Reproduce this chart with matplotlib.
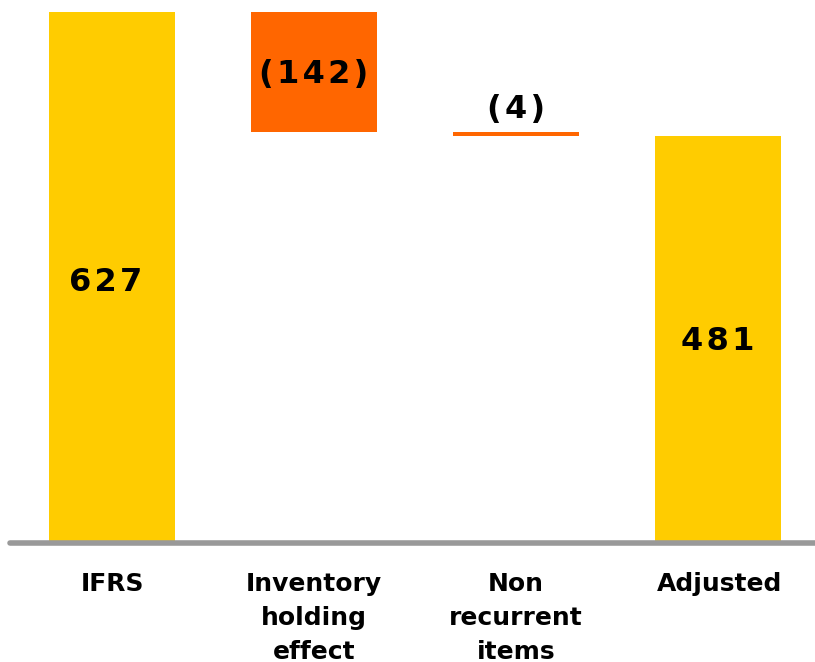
import numpy as np
import matplotlib
matplotlib.use('Agg')
from matplotlib import pyplot as plt

categories = ['IFRS', 'Inventory\nholding\neffect', 'Non\nrecurrent\nitems', 'Adjusted']
values = [627, -142, -4, 481]
labels = ['627', '(142)', '(4)', '481']
is_total = [True, False, False, True]

yellow = '#FFCC00'
orange = '#FF6600'


def spaced(s):
    # the reference value labels are letter-spaced
    return '\u200a'.join(s)


fig = plt.figure(figsize=(8.15, 6.62), dpi=100)
ax = fig.add_axes([10 / 815, (662 - 543) / 662, 805 / 815, (543 - 12) / 662])

x = np.arange(len(categories))
bottoms, heights = [], []
running = 0
for v, total in zip(values, is_total):
    if total:
        bottoms.append(0)
        heights.append(v)
        running = v
    else:
        bottoms.append(running + v)
        heights.append(-v)
        running += v

colors = [yellow if t else orange for t in is_total]
ax.bar(x, heights, bottom=bottoms, width=0.624, color=colors, zorder=2)

for xi, b, h, lab, total in zip(x, bottoms, heights, labels, is_total):
    if h > 20:
        ax.text(xi - (0.03 if xi == 0 else 0), b + h / 2 - (6 if xi == 0 else 3), spaced(lab),
                ha='center', va='center', fontsize=23, fontweight='bold')
    else:
        ax.text(xi, b + h + 8, spaced(lab), ha='center', va='bottom',
                fontsize=23, fontweight='bold')

ax.set_xlim(-0.505, 3.48)
ax.set_ylim(0, 627)
ax.axhline(0, color='#999999', lw=4, solid_capstyle='round', zorder=3, clip_on=False)

for xi, cat in zip(x, categories):
    ax.text(xi + (0.01 if xi == 3 else 0), -34, cat, ha='center', va='top',
            fontsize=18, fontweight='bold', linespacing=1.52)

ax.axis('off')
fig.savefig('out.png', dpi=100)
